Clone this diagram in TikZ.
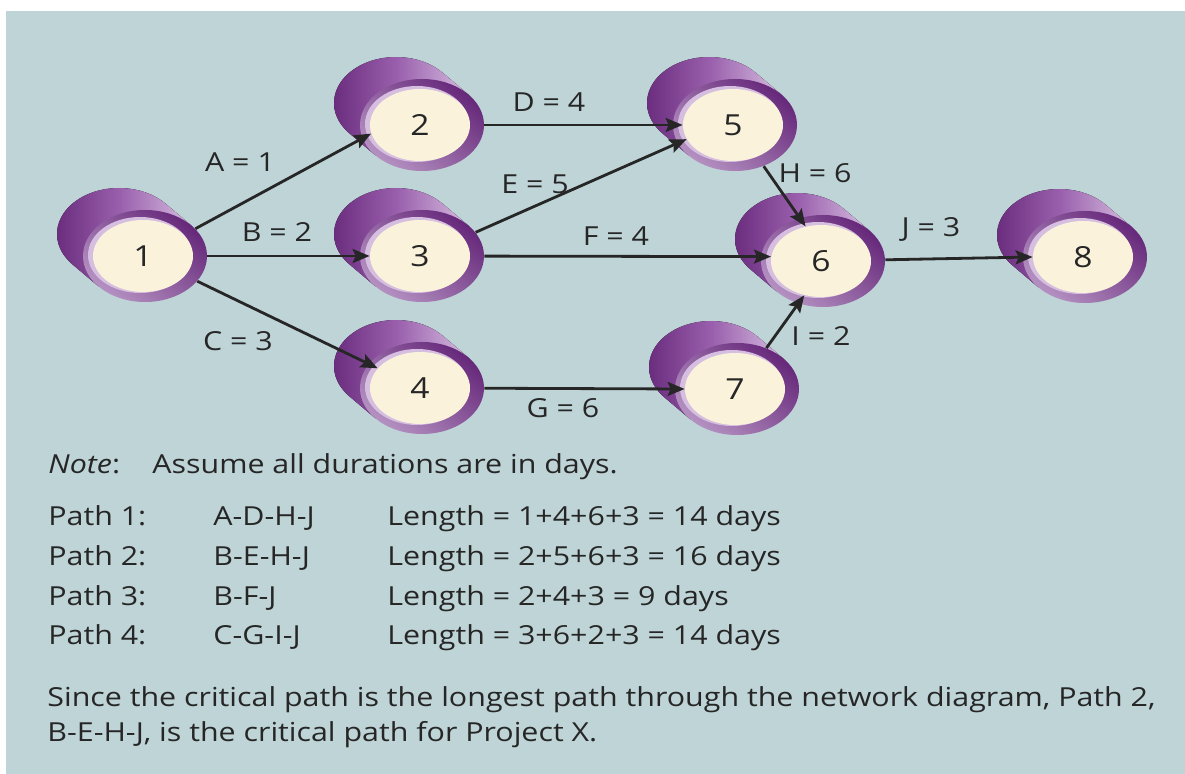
\documentclass[tikz,border=0pt]{standalone}
\usepackage{fontspec}
\setmainfont{Open Sans}[FakeStretch=1.16]
\usepackage{tikz}
\usetikzlibrary{arrows.meta,shapes.geometric}
\definecolor{netbg}{HTML}{BED4D7}
\definecolor{netcream}{HTML}{FAF2DA}
\definecolor{netdark}{HTML}{66287A}
\definecolor{netmid}{HTML}{9A60AD}
\definecolor{netlight}{HTML}{D6BEE0}
\definecolor{netink}{HTML}{262626}
\tikzset{
  every picture/.append style={font=\fontsize{13.1}{16}\selectfont},
  evbody/.style={left color=netdark,right color=netlight,middle color=netmid},
  evring/.style={ellipse,minimum width=62pt,minimum height=46pt,inner sep=0pt,
    top color=netdark,bottom color=netlight!70!netdark,shading angle=-40},
  evface/.style={ellipse,minimum width=50pt,minimum height=36pt,inner sep=0pt,
    fill=netcream,text=netink,font=\fontsize{14.5}{18}\selectfont},
  act/.style={draw=netink,line width=1.4pt,-{Stealth[length=8.5pt,width=7pt,inset=1.5pt]}},
  actlabel/.style={text=netink,inner sep=0pt},
  notetext/.style={text=netink,inner sep=0pt,anchor=base west}
}

\begin{document}
\begin{tikzpicture}[x=0.5pt,y=-0.5pt]
  \useasboundingbox (0,0) rectangle (1185,774);
  \fill[white] (0,0) rectangle (1185,774);
  \fill[netbg] (6,11) rectangle (1185,774);
  % events
  \foreach \n/\x/\y in {1/143/256,2/420/125,3/420/256,4/420/388,5/733/125,6/821/261,7/735/389,8/1083/257} {
    \fill[evbody,shift={(\x+2,\y)}] (-41.2:62 and 46) -- ++(-26,-22)
      arc[start angle=-41.2,end angle=-221.2,x radius=62,y radius=46] -- (138.8:62 and 46) -- cycle;
    \node[evring] (r\n) at (\x+2,\y) {};
    \fill[netlight] (\x-3,\y-1) ellipse [x radius=52,y radius=38];
    \node[evface] (c\n) at (\x,\y) {\n};
  }
  % activities
  \draw[act] (r1) -- (c2.190);
  \draw[act] (r1) -- (c3.west);
  \draw[act] (r1) -- (c4.155);
  \draw[act] (r2) -- (c5.west);
  \draw[act] (r3) -- (c5.197);
  \draw[act] (r3) -- (c6.175);
  \draw[act] (r4) -- (c7.west);
  \draw[act] (r5) -- (c6.114);
  \draw[act] (r7) -- (c6.244);
  \draw[act] (r6) -- (c8.west);
  % durations
  \node[actlabel] (lA) at (240,162) {A = 1};
  \node[actlabel] (lB) at (277,232) {B = 2};
  \node[actlabel] (lC) at (238,341) {C = 3};
  \node[actlabel] (lD) at (549,102) {D = 4};
  \node[actlabel] (lE) at (535,184) {E = 5};
  \node[actlabel] (lF) at (616,236) {F = 4};
  \node[actlabel] (lG) at (563,408) {G = 6};
  \node[actlabel] (lH) at (815,173) {H = 6};
  \node[actlabel] (lI) at (821,336) {I = 2};
  \node[actlabel] (lJ) at (931,229) {J = 3};
  % notes
  \node[notetext] (note) at (48,474) {\textit{Note}:};
  \node[notetext] (assume) at (152,474) {Assume all durations are in days.};
  \foreach \i/\seq/\len in {1/A-D-H-J/1+4+6+3 = 14,2/B-E-H-J/2+5+6+3 = 16,3/B-F-J/2+4+3 = 9,4/C-G-I-J/3+6+2+3 = 14} {
    \node[notetext] (p\i) at (48,{526+39.6*(\i-1)}) {Path \i:};
    \node[notetext] (s\i) at (213,{526+39.6*(\i-1)}) {\seq};
    \node[notetext] (len\i) at (387,{526+39.6*(\i-1)}) {Length = \len\ days};
  }
  \node[notetext] (since) at (47,707) {Since the critical path is the longest path through the network diagram, Path 2,};
  \node[notetext] (crit) at (47,742) {B-E-H-J, is the critical path for Project X.};
\end{tikzpicture}
\end{document}
